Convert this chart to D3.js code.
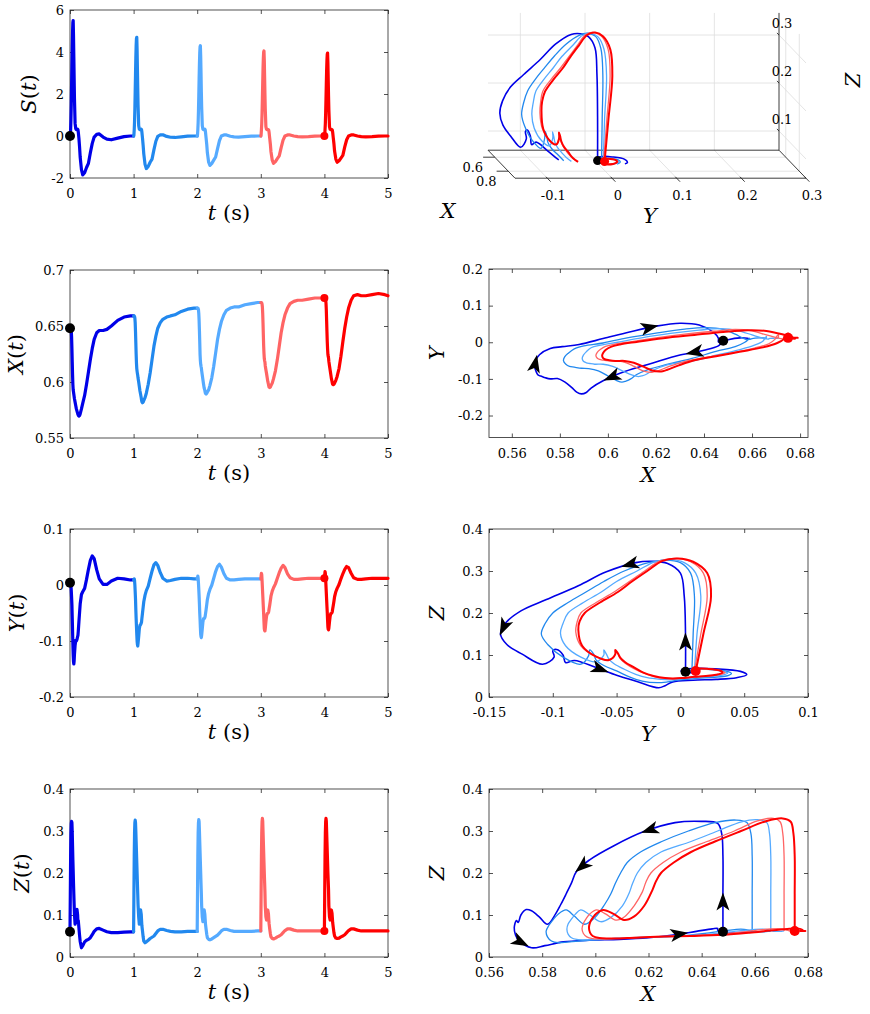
<!DOCTYPE html>
<html>
<head>
<meta charset="utf-8">
<script src="https://cdn.jsdelivr.net/npm/d3@7"></script>
<style>
  body { margin: 0; background: #fff; }
  svg { display: block; }
  svg text { font-family: "DejaVu Serif", serif !important; }
</style>
</head>
<body>
<svg id="fig" width="870" height="1014"></svg>
<script>
// time samples inside one 1 s cycle (same grid for every cycle)
const tCycle = [0, .005, .01, .015, .02, .025, .03, .035, .04, .045, .05, .055, .06, .065, .07, .08, .09, .1, .11, .12,
  .125, .13, .14, .15, .16, .18, .2, .23, .26, .29, .32, .35, .38, .42, .46, .52, .58, .65, .75, .85, .95, 1];

// S(t) per cycle
const s1 = [0, .05, .3, .8, 1.5, 2.4, 3.3, 4.2, 4.9, 5.4, 5.5, 4.8, 3.8, 2.8, 1.8, .6, .35, .3, .3, .32,
  .3, .2, -.1, -.5, -1.0, -1.6, -1.85, -1.75, -1.5, -1.3, -.8, -.35, -.05, .08, .1, -.05, -.15, -.18, -.1, -.03, 0, 0];
const s2 = [0, .05, .3, .7, 1.3, 2.1, 2.9, 3.7, 4.3, 4.65, 4.7, 4.1, 3.2, 2.3, 1.5, .5, .32, .3, .3, .32,
  .3, .2, -.1, -.45, -.85, -1.35, -1.55, -1.45, -1.25, -1.1, -.65, -.25, -.02, .05, .06, -.02, -.06, -.07, -.04, -.01, 0, 0];
const s3 = [0, .05, .3, .65, 1.2, 1.9, 2.7, 3.4, 3.95, 4.25, 4.3, 3.8, 3.0, 2.1, 1.4, .5, .32, .3, .3, .32,
  .3, .2, -.1, -.4, -.8, -1.25, -1.4, -1.3, -1.15, -1.0, -.6, -.22, 0, .05, .05, -.01, -.04, -.05, -.03, -.01, 0, 0];
const s4 = [0, .05, .3, .6, 1.1, 1.8, 2.5, 3.2, 3.7, 4.0, 4.05, 3.6, 2.8, 2.0, 1.3, .45, .32, .3, .3, .3,
  .28, .18, -.1, -.38, -.75, -1.15, -1.3, -1.22, -1.08, -.95, -.55, -.2, 0, .05, .05, 0, -.03, -.04, -.03, -.01, 0, 0];
const s5 = [0, .05, .3, .6, 1.1, 1.75, 2.45, 3.1, 3.6, 3.9, 3.95, 3.5, 2.7, 1.9, 1.25, .45, .32, .3, .3, .3,
  .28, .18, -.1, -.37, -.72, -1.1, -1.25, -1.18, -1.05, -.92, -.52, -.18, 0, .05, .05, 0, -.03, -.04, -.03, -.01, 0, 0];

// X(t) per cycle
const x1 = [.648, .648, .648, .6475, .646, .640, .630, .618, .607, .598, .593, .591, .589, .587, .585, .582, .579, .576, .574, .572,
  .571, .5703, .5695, .570, .5715, .576, .581, .588, .598, .609, .620, .630, .638, .644, .646, .646, .647, .650, .655, .658, .659, .659];
const x2 = [.659, .659, .659, .6585, .657, .653, .645, .635, .625, .617, .612, .6095, .6075, .6058, .6035, .600, .596, .592, .589, .586,
  .584, .5825, .5815, .582, .5835, .586, .590, .598, .608, .620, .632, .641, .648, .653, .656, .658, .659, .660, .663, .665, .666, .666];
const x3 = [.666, .666, .666, .6655, .6645, .661, .655, .646, .636, .6247, .619, .6158, .614, .6127, .6102, .606, .602, .598, .5945, .5925,
  .591, .5898, .5893, .5898, .591, .593, .597, .604, .614, .626, .638, .647, .654, .660, .664, .666, .667, .667, .669, .670, .671, .671];
const x4 = [.671, .671, .671, .6705, .6695, .667, .661, .6523, .642, .6322, .6255, .6209, .619, .6177, .6146, .611, .6077, .604, .6005, .598,
  .5965, .5955, .595, .5955, .5968, .599, .603, .610, .620, .632, .644, .653, .660, .666, .670, .672, .673, .673, .674, .675, .675, .675];
const x5 = [.675, .675, .675, .6745, .6735, .6705, .6645, .6548, .645, .636, .6295, .6247, .6228, .6215, .6184, .6145, .6108, .607, .603, .6005,
  .599, .598, .5976, .598, .599, .6015, .605, .612, .623, .636, .648, .658, .666, .673, .677, .678, .677, .677, .678, .679, .678, .677];

// Y(t) per cycle
const y1 = [.004, .004, .003, .000, -.010, -.022, -.035, -.058, -.080, -.105, -.125, -.137, -.141, -.136, -.124, -.108, -.099, -.100, -.097, -.092,
  -.090, -.083, -.066, -.050, -.034, -.017, -.012, -.006, .010, .028, .044, .052, .047, .027, .011, .001, .001, .007, .012, .011, .009, .009];
const y2 = [.009, .010, .011, .008, .000, -.012, -.025, -.044, -.060, -.074, -.088, -.100, -.106, -.109, -.104, -.092, -.078, -.072, -.071, -.068,
  -.066, -.060, -.050, -.040, -.030, -.018, -.010, -.002, .012, .025, .036, .040, .035, .022, .012, .007, .008, .010, .012, .012, .011, .011];
const y3 = [.011, .013, .016, .012, .003, -.008, -.020, -.034, -.050, -.062, -.076, -.088, -.092, -.094, -.090, -.078, -.066, -.060, -.060, -.058,
  -.056, -.052, -.044, -.035, -.026, -.015, -.008, .000, .012, .024, .033, .037, .032, .020, .012, .009, .009, .010, .011, .011, .011, .011];
const y4 = [.011, .016, .021, .018, .008, -.004, -.016, -.028, -.040, -.052, -.066, -.078, -.081, -.082, -.078, -.066, -.056, -.051, -.051, -.049,
  -.047, -.043, -.036, -.028, -.020, -.011, -.005, .002, .012, .022, .030, .035, .031, .020, .013, .010, .010, .011, .012, .012, .012, .012];
const y5 = [.012, .018, .024, .021, .010, -.002, -.014, -.026, -.038, -.049, -.063, -.075, -.079, -.080, -.077, -.066, -.056, -.051, -.051, -.049,
  -.047, -.043, -.036, -.029, -.021, -.012, -.006, .001, .011, .020, .028, .033, .031, .021, .013, .010, .010, .011, .012, .012, .012, .012];

// Z(t) per cycle
const z1 = [.060, .150, .240, .295, .318, .323, .320, .298, .265, .232, .205, .176, .150, .125, .102, .078, .095, .110, .113, .100,
  .082, .087, .070, .052, .037, .022, .027, .036, .040, .042, .046, .053, .061, .067, .068, .064, .060, .058, .058, .059, .060, .060];
const z2 = [.060, .150, .240, .295, .320, .326, .320, .300, .275, .250, .225, .200, .175, .150, .125, .095, .078, .098, .112, .102,
  .088, .075, .062, .048, .038, .034, .036, .040, .044, .047, .050, .056, .062, .066, .066, .063, .061, .060, .060, .061, .061, .061];
const z3 = [.061, .150, .240, .295, .320, .327, .322, .300, .275, .250, .225, .200, .175, .152, .122, .095, .084, .100, .112, .102,
  .090, .079, .066, .054, .046, .042, .041, .043, .046, .049, .052, .057, .062, .066, .066, .063, .061, .061, .061, .061, .062, .062];
const z4 = [.062, .150, .240, .295, .322, .330, .324, .300, .275, .250, .225, .200, .178, .155, .122, .096, .088, .102, .112, .103,
  .091, .080, .067, .056, .048, .044, .043, .045, .048, .050, .053, .058, .063, .067, .067, .064, .062, .062, .062, .062, .062, .062];
const z5 = [.062, .150, .240, .295, .322, .330, .324, .300, .275, .250, .225, .200, .180, .160, .122, .096, .088, .102, .112, .104,
  .093, .082, .070, .058, .050, .045, .044, .045, .048, .050, .053, .058, .063, .067, .067, .064, .062, .062, .062, .062, .062, .062];

// where the direction arrows sit on the first cycle (time inside cycle)
const arrowsXY = [0.027, 0.043, 0.145, 0.313];
const arrowsYZ = [0.004, 0.031, 0.057, 0.142];
const arrowsXZ = [0.004, 0.034, 0.048, 0.162, 0.356];

const colors = ["#0000e8", "#2188ee", "#55aaff", "#ff6464", "#ff0000"];
const phaseWidths = [1.6, 1.3, 1.3, 1.3, 2];

const FONT = "DejaVu Serif";
const TICK_FS = 13, LABEL_FS = 21;
const AX = "#262626";
const svg = d3.select("#fig");
svg.append("rect").attr("width", 870).attr("height", 1014).attr("fill", "#fff");

const sSeries = [s1, s2, s3, s4, s5], xSeries = [x1, x2, x3, x4, x5];
const ySeries = [y1, y2, y3, y4, y5], zSeries = [z1, z2, z3, z4, z5];
const cycles = sSeries.map((_, k) => tCycle.map((t, i) => ({
  t: k + t, s: sSeries[k][i], x: xSeries[k][i], y: ySeries[k][i], z: zSeries[k][i]
})));

const fmt = d => String(+d.toFixed(4));

function mathText(sel, parts) {
  parts.forEach(([txt, it]) => sel.append("tspan").attr("font-style", it ? "italic" : "normal").text(txt));
  return sel;
}

// box with inward ticks on all four sides
function frame(g, x, y, xt, yt) {
  const [x0, x1] = x.range(), [yb, yt0] = y.range();
  g.append("g").attr("transform", `translate(0,${yb})`)
    .call(d3.axisBottom(x).tickValues(xt).tickSize(-4).tickPadding(11).tickFormat(fmt));
  g.append("g").attr("transform", `translate(0,${yt0})`)
    .call(d3.axisTop(x).tickValues(xt).tickSize(-4).tickFormat(""));
  g.append("g").attr("transform", `translate(${x0},0)`)
    .call(d3.axisLeft(y).tickValues(yt).tickSize(-4).tickPadding(6).tickFormat(fmt));
  g.append("g").attr("transform", `translate(${x1},0)`)
    .call(d3.axisRight(y).tickValues(yt).tickSize(-4).tickFormat(""));
  g.selectAll(".domain").remove();
  g.selectAll("g").attr("font-family", FONT);
  g.selectAll(".tick line").attr("stroke", AX).attr("stroke-width", 0.8);
  g.selectAll(".tick text").attr("font-size", TICK_FS).attr("fill", "#000");
  g.append("rect").attr("x", x0).attr("y", yt0).attr("width", x1 - x0).attr("height", yb - yt0)
    .attr("fill", "none").attr("stroke", AX).attr("stroke-width", 0.8);
}

// ---------- left column: time series ----------
const tScale = d3.scaleLinear().domain([0, 5]).range([70, 388]);
const tsPanels = [
  { key: "s", name: "S", top: 10, domain: [-2, 6], ticks: [-2, 0, 2, 4, 6], lx: 29 },
  { key: "x", name: "X", top: 270, domain: [0.55, 0.7], ticks: [0.55, 0.6, 0.65, 0.7], lx: 16 },
  { key: "y", name: "Y", top: 529, domain: [-0.2, 0.1], ticks: [-0.2, -0.1, 0, 0.1], lx: 17 },
  { key: "z", name: "Z", top: 789, domain: [0, 0.4], ticks: [0, 0.1, 0.2, 0.3, 0.4], lx: 22 }
];

tsPanels.forEach(p => {
  const g = svg.append("g");
  const v = d3.scaleLinear().domain(p.domain).range([p.top + 168, p.top]);
  frame(g, tScale, v, [0, 1, 2, 3, 4, 5], p.ticks);
  const line = d3.line().x(d => tScale(d.t)).y(d => v(d[p.key]));
  cycles.forEach((c, k) => {
    g.append("path").attr("d", line(c)).attr("fill", "none").attr("stroke", colors[k])
      .attr("stroke-width", 3.2).attr("stroke-linejoin", "round").attr("stroke-linecap", "round");
  });
  g.append("circle").attr("cx", tScale(cycles[4][0].t)).attr("cy", v(cycles[4][0][p.key])).attr("r", 4).attr("fill", colors[4]);
  g.append("circle").attr("cx", tScale(cycles[0][0].t)).attr("cy", v(cycles[0][0][p.key])).attr("r", 5).attr("fill", "#000");
  mathText(g.append("text").attr("transform", `translate(${p.lx},${p.top + 84}) rotate(-90)`)
    .attr("text-anchor", "middle").attr("dy", "0.35em").attr("font-size", LABEL_FS),
    [[p.name, true], ["(", false], ["t", true], [")", false]]);
  mathText(g.append("text").attr("x", 229).attr("y", p.top + 168 + 42)
    .attr("text-anchor", "middle").attr("font-size", LABEL_FS),
    [["t", true], [" (s)", false]]);
});

// ---------- right column: phase portraits ----------
function pointAt(c, tr) {
  const i = Math.max(0, Math.min(d3.bisectRight(tCycle, tr) - 1, tCycle.length - 2));
  const f = (tr - tCycle[i]) / (tCycle[i + 1] - tCycle[i]);
  const p = {};
  ["x", "y", "z"].forEach(k => p[k] = c[i][k] + f * (c[i + 1][k] - c[i][k]));
  return p;
}
const arrowPath = "M9,0 L-9,-6.5 L-4.5,0 L-9,6.5 Z";

const phasePanels = [
  { top: 269, bottom: 437.5, hk: "x", vk: "y", hDom: [0.5505, 0.6833], vDom: [-0.26, 0.2],
    hTicks: [0.56, 0.58, 0.6, 0.62, 0.64, 0.66, 0.68], vTicks: [-0.2, -0.1, 0, 0.1, 0.2],
    hName: "X", vName: "Y", arrows: arrowsXY },
  { top: 529, bottom: 697, hk: "y", vk: "z", hDom: [-0.15, 0.1], vDom: [0, 0.4],
    hTicks: [-0.15, -0.1, -0.05, 0, 0.05, 0.1], vTicks: [0, 0.1, 0.2, 0.3, 0.4],
    hName: "Y", vName: "Z", arrows: arrowsYZ },
  { top: 789, bottom: 957, hk: "x", vk: "z", hDom: [0.56, 0.68], vDom: [0, 0.4],
    hTicks: [0.56, 0.58, 0.6, 0.62, 0.64, 0.66, 0.68], vTicks: [0, 0.1, 0.2, 0.3, 0.4],
    hName: "X", vName: "Z", arrows: arrowsXZ }
];

phasePanels.forEach(p => {
  const g = svg.append("g");
  const h = d3.scaleLinear().domain(p.hDom).range([489, 808]);
  const v = d3.scaleLinear().domain(p.vDom).range([p.bottom, p.top]);
  frame(g, h, v, p.hTicks, p.vTicks);
  const line = d3.line().x(d => h(d[p.hk])).y(d => v(d[p.vk])).curve(d3.curveCatmullRom.alpha(0.5));
  cycles.forEach((c, k) => {
    g.append("path").attr("d", line(c)).attr("fill", "none").attr("stroke", colors[k])
      .attr("stroke-width", phaseWidths[k]).attr("stroke-linejoin", "round");
  });
  p.arrows.forEach(tr => {
    const a = pointAt(cycles[0], tr), b = pointAt(cycles[0], tr - 0.002), e = pointAt(cycles[0], tr + 0.002);
    const ang = Math.atan2(v(e[p.vk]) - v(b[p.vk]), h(e[p.hk]) - h(b[p.hk])) * 180 / Math.PI;
    g.append("path").attr("d", arrowPath).attr("fill", "#000")
      .attr("transform", `translate(${h(a[p.hk])},${v(a[p.vk])}) rotate(${ang})`);
  });
  g.append("circle").attr("cx", h(cycles[0][0][p.hk])).attr("cy", v(cycles[0][0][p.vk])).attr("r", 5).attr("fill", "#000");
  g.append("circle").attr("cx", h(cycles[4][0][p.hk])).attr("cy", v(cycles[4][0][p.vk])).attr("r", 5).attr("fill", colors[4]);
  g.append("text").attr("transform", `translate(437,${(p.top + p.bottom) / 2}) rotate(-90)`)
    .attr("text-anchor", "middle").attr("dy", "0.35em")
    .attr("font-size", LABEL_FS).attr("font-style", "italic").text(p.vName);
  g.append("text").attr("x", 648).attr("y", p.bottom + 44).attr("text-anchor", "middle")
    .attr("font-size", LABEL_FS).attr("font-style", "italic").text(p.hName);
});

// ---------- 3-D trajectory (oblique view) ----------
const yLim3 = [-0.15, 0.3], xLim3 = [0.5, 0.9], zFloor = 0.06, zTop = 0.346, zClip = 0.05;
const y3d = d3.scaleLinear().domain(yLim3).range([488, 779]);
const z3d = d3.scaleLinear().domain([0, 0.3]).range([179, 35]);
const u3d = d3.scaleLinear().domain(xLim3).range([0, 1]);
const proj = (X, Y, Z) => { const u = u3d(X); return [y3d(Y) + 27 * u, z3d(Z) + 28 * u]; };

const g3 = svg.append("g");
const seg = (a, b, stroke, w) => g3.append("line")
  .attr("x1", a[0]).attr("y1", a[1]).attr("x2", b[0]).attr("y2", b[1])
  .attr("stroke", stroke).attr("stroke-width", w);
const GRID = "#dddddd";
const yT3 = [-0.1, 0, 0.1, 0.2, 0.3], xT3 = [0.6, 0.8], zT3 = [0.1, 0.2, 0.3];

// grid: back wall, floor, right wall
yT3.slice(0, 4).forEach(Y => seg(proj(xLim3[0], Y, zFloor), proj(xLim3[0], Y, zTop), GRID, 0.8));
zT3.forEach(Z => seg(proj(xLim3[0], yLim3[0], Z), proj(xLim3[0], yLim3[1], Z), GRID, 0.8));
yT3.slice(0, 4).forEach(Y => seg(proj(xLim3[0], Y, zFloor), proj(xLim3[1], Y, zFloor), GRID, 0.8));
xT3.forEach(X => seg(proj(X, yLim3[0], zFloor), proj(X, yLim3[1], zFloor), GRID, 0.8));
zT3.forEach(Z => seg(proj(xLim3[0], yLim3[1], Z), proj(xLim3[1], yLim3[1], Z), GRID, 0.8));
xT3.forEach(X => seg(proj(X, yLim3[1], zFloor), proj(X, yLim3[1], zTop), GRID, 0.8));

// axis edges
seg(proj(xLim3[0], yLim3[0], zFloor), proj(xLim3[0], yLim3[1], zFloor), AX, 0.9);
seg(proj(xLim3[0], yLim3[0], zFloor), proj(xLim3[1], yLim3[0], zFloor), AX, 0.9);
seg(proj(xLim3[1], yLim3[0], zFloor), proj(xLim3[1], yLim3[1], zFloor), AX, 0.9);
seg(proj(xLim3[0], yLim3[1], zFloor), proj(xLim3[1], yLim3[1], zFloor), AX, 0.9);
seg(proj(xLim3[0], yLim3[1], zFloor), proj(xLim3[0], yLim3[1], zTop), AX, 0.9);

// ticks and tick labels
yT3.forEach(Y => {
  seg(proj(0.88, Y, zFloor), proj(0.95, Y, zFloor), AX, 0.9);
  const q = proj(xLim3[1], Y, zFloor);
  g3.append("text").attr("x", q[0] + 6).attr("y", 200).attr("text-anchor", "middle")
    .attr("font-size", TICK_FS).text(fmt(Y));
});
xT3.forEach(X => {
  seg(proj(X, yLim3[0], zFloor), proj(X, yLim3[0] - 0.018, zFloor), AX, 0.9);
  const q = proj(X, yLim3[0], zFloor);
  g3.append("text").attr("x", q[0] - 22).attr("y", q[1] + 15).attr("text-anchor", "middle")
    .attr("font-size", TICK_FS).text(fmt(X));
});
zT3.forEach(Z => {
  seg(proj(xLim3[0], yLim3[1], Z), proj(xLim3[0] - 0.03, yLim3[1], Z), AX, 0.9);
  const q = proj(xLim3[0], yLim3[1], Z);
  g3.append("text").attr("x", q[0] + 3).attr("y", q[1] - 7).attr("text-anchor", "middle")
    .attr("font-size", TICK_FS).text(fmt(Z));
});
g3.append("text").attr("x", 448).attr("y", 218).attr("text-anchor", "middle")
  .attr("font-size", LABEL_FS).attr("font-style", "italic").text("X");
g3.append("text").attr("x", 650).attr("y", 223).attr("text-anchor", "middle")
  .attr("font-size", LABEL_FS).attr("font-style", "italic").text("Y");
g3.append("text").attr("transform", "translate(853,80) rotate(-90)").attr("text-anchor", "middle")
  .attr("dy", "0.35em").attr("font-size", LABEL_FS).attr("font-style", "italic").text("Z");

// trajectory, cut where it drops below the lower z limit
function clipLow(pts, zmin) {
  const out = [];
  let cur = [];
  const cross = (a, b) => {
    const f = (zmin - a.z) / (b.z - a.z);
    return { x: a.x + f * (b.x - a.x), y: a.y + f * (b.y - a.y), z: zmin };
  };
  pts.forEach((p, i) => {
    const q = pts[i - 1];
    if (p.z >= zmin) {
      if (q && q.z < zmin) cur.push(cross(q, p));
      cur.push(p);
    } else if (q && q.z >= zmin) {
      cur.push(cross(q, p));
      out.push(cur);
      cur = [];
    }
  });
  if (cur.length) out.push(cur);
  return out;
}
const line3 = d3.line().x(d => proj(d.x, d.y, d.z)[0]).y(d => proj(d.x, d.y, d.z)[1])
  .curve(d3.curveCatmullRom.alpha(0.5));
cycles.forEach((c, k) => {
  clipLow(c, zClip).forEach(part => {
    g3.append("path").attr("d", line3(part)).attr("fill", "none").attr("stroke", colors[k])
      .attr("stroke-width", phaseWidths[k]).attr("stroke-linejoin", "round");
  });
});
const b0 = cycles[0][0], r0 = cycles[4][0];
g3.append("circle").attr("cx", proj(b0.x, b0.y, b0.z)[0]).attr("cy", proj(b0.x, b0.y, b0.z)[1]).attr("r", 4.5).attr("fill", "#000");
g3.append("circle").attr("cx", proj(r0.x, r0.y, r0.z)[0]).attr("cy", proj(r0.x, r0.y, r0.z)[1]).attr("r", 4.5).attr("fill", colors[4]);
</script>
</body>
</html>
